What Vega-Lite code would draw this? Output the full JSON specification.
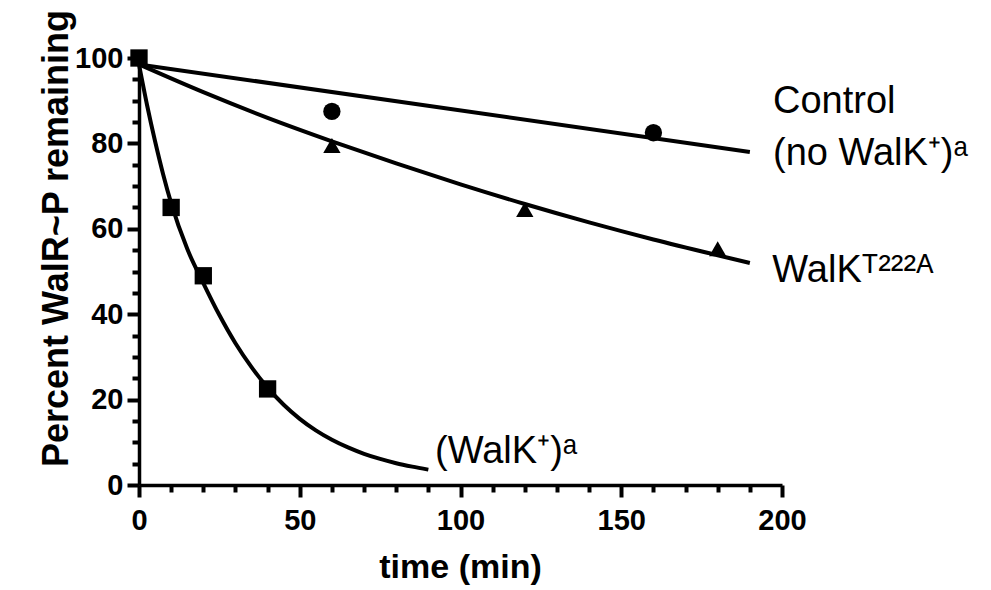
{
  "$schema": "https://vega.github.io/schema/vega-lite/v6.json",
  "width": 643,
  "height": 427,
  "autosize": {"type": "none"},
  "padding": {"left": 139, "top": 58, "right": 209, "bottom": 105},
  "background": "white",
  "config": {
    "view": {"stroke": null},
    "font": "Liberation Sans",
    "axis": {
      "domainColor": "black",
      "domainWidth": 3.5,
      "grid": false,
      "labelFont": "Liberation Sans",
      "labelFontWeight": "bold",
      "labelFontSize": 29,
      "labelColor": "black",
      "titleFont": "Liberation Sans",
      "titleFontWeight": "bold",
      "titleColor": "black"
    }
  },
  "datasets": {
    "curves": [
      {"series": "WalK", "time": 0, "pct": 98.5},
      {"series": "WalK", "time": 2.5, "pct": 89},
      {"series": "WalK", "time": 5, "pct": 80.5},
      {"series": "WalK", "time": 7.5, "pct": 72.8},
      {"series": "WalK", "time": 10, "pct": 66},
      {"series": "WalK", "time": 15, "pct": 55.3},
      {"series": "WalK", "time": 20, "pct": 47.3},
      {"series": "WalK", "time": 25, "pct": 39.8},
      {"series": "WalK", "time": 30, "pct": 33.2},
      {"series": "WalK", "time": 35, "pct": 27.6},
      {"series": "WalK", "time": 40, "pct": 22.8},
      {"series": "WalK", "time": 45, "pct": 18.8},
      {"series": "WalK", "time": 50, "pct": 15.5},
      {"series": "WalK", "time": 55, "pct": 12.8},
      {"series": "WalK", "time": 60, "pct": 10.6},
      {"series": "WalK", "time": 65, "pct": 8.8},
      {"series": "WalK", "time": 70, "pct": 7.3},
      {"series": "WalK", "time": 75, "pct": 6.1},
      {"series": "WalK", "time": 80, "pct": 5.1},
      {"series": "WalK", "time": 85, "pct": 4.3},
      {"series": "WalK", "time": 90, "pct": 3.6},
      {"series": "Control", "time": 0, "pct": 98.5},
      {"series": "Control", "time": 190, "pct": 78},
      {"series": "T222A", "time": 0, "pct": 98.5},
      {"series": "T222A", "time": 20, "pct": 92},
      {"series": "T222A", "time": 40, "pct": 86},
      {"series": "T222A", "time": 60, "pct": 80.5},
      {"series": "T222A", "time": 80, "pct": 75.3},
      {"series": "T222A", "time": 100, "pct": 70.4},
      {"series": "T222A", "time": 120, "pct": 65.8},
      {"series": "T222A", "time": 140, "pct": 61.5},
      {"series": "T222A", "time": 160, "pct": 57.5},
      {"series": "T222A", "time": 180, "pct": 53.8},
      {"series": "T222A", "time": 190, "pct": 52}
    ],
    "points": [
      {"series": "WalK", "time": 0, "pct": 100},
      {"series": "WalK", "time": 10, "pct": 65},
      {"series": "WalK", "time": 20, "pct": 49},
      {"series": "WalK", "time": 40, "pct": 22.5},
      {"series": "Control", "time": 60, "pct": 87.5},
      {"series": "Control", "time": 160, "pct": 82.5},
      {"series": "T222A", "time": 60, "pct": 79.5},
      {"series": "T222A", "time": 120, "pct": 64.5},
      {"series": "T222A", "time": 180, "pct": 55.3}
    ],
    "labels": [
      {"label": "Control", "time": 197.2, "pct": 87.1},
      {"label": "(no WalK⁺)ᵃ", "time": 197.2, "pct": 74.9},
      {"label": "WalKᵀ²²²ᴬ", "time": 197, "pct": 47.6},
      {"label": "(WalK⁺)ᵃ", "time": 92.1, "pct": 5.2}
    ]
  },
  "resolve": {"axis": {"x": "independent", "y": "independent"}},
  "layer": [
    {
      "data": {"name": "curves"},
      "mark": {"type": "line", "color": "black", "strokeWidth": 4, "interpolate": "monotone", "clip": false},
      "encoding": {
        "x": {
          "field": "time", "type": "quantitative",
          "scale": {"domain": [0, 200], "nice": false, "zero": false},
          "axis": {
            "orient": "bottom",
            "title": "time (min)",
            "titleFontSize": 34,
            "titleX": 321,
            "titleY": 92,
            "titleBaseline": "alphabetic",
            "values": [0, 50, 100, 150, 200],
            "ticks": true,
            "tickColor": "#000000",
            "tickSize": 12,
            "tickWidth": 4,
            "tickOpacity": 1,
            "labelPadding": 9,
            "labelFlush": false,
            "labelOverlap": false
          }
        },
        "y": {
          "field": "pct", "type": "quantitative",
          "scale": {"domain": [0, 100], "nice": false},
          "axis": {
            "orient": "left",
            "title": "Percent WalR~P remaining",
            "titleFontSize": 36,
            "titleAngle": -90,
            "titleX": -72,
            "titleY": 180,
            "titleAlign": "center",
            "titleBaseline": "alphabetic",
            "values": [0, 20, 40, 60, 80, 100],
            "ticks": true,
            "tickColor": "#000000",
            "tickSize": 12,
            "tickWidth": 4,
            "tickOpacity": 1,
            "labelPadding": 4,
            "labelOverlap": false
          }
        },
        "detail": {"field": "series"}
      }
    },
    {
      "data": {"name": "points"},
      "mark": {"type": "point", "filled": true, "color": "black", "opacity": 1, "clip": false},
      "encoding": {
        "x": {
          "field": "time", "type": "quantitative",
          "axis": {
            "orient": "bottom",
            "title": null,
            "labels": false,
            "domain": false,
            "values": [10, 20, 30, 40, 60, 70, 80, 90, 110, 120, 130, 140, 160, 170, 180, 190],
            "ticks": true,
            "tickColor": "#000000",
            "tickSize": 7,
            "tickWidth": 4,
            "tickOpacity": 1
          }
        },
        "y": {
          "field": "pct", "type": "quantitative",
          "axis": {
            "orient": "left",
            "title": null,
            "labels": false,
            "domain": false,
            "values": [5, 10, 15, 25, 30, 35, 45, 50, 55, 65, 70, 75, 85, 90, 95],
            "ticks": true,
            "tickColor": "#000000",
            "tickSize": 7,
            "tickWidth": 4,
            "tickOpacity": 1
          }
        },
        "shape": {
          "field": "series", "type": "nominal",
          "scale": {"domain": ["WalK", "Control", "T222A"], "range": ["square", "circle", "triangle-up"]},
          "legend": null
        },
        "size": {
          "field": "series", "type": "nominal",
          "scale": {"domain": ["WalK", "Control", "T222A"], "range": [300, 300, 420]},
          "legend": null
        }
      }
    },
    {
      "data": {"name": "labels"},
      "mark": {"type": "text", "align": "left", "baseline": "alphabetic", "font": "Liberation Sans", "fontSize": 38, "color": "black"},
      "encoding": {
        "x": {"field": "time", "type": "quantitative", "axis": null},
        "y": {"field": "pct", "type": "quantitative", "axis": null},
        "text": {"field": "label"}
      }
    }
  ]
}
